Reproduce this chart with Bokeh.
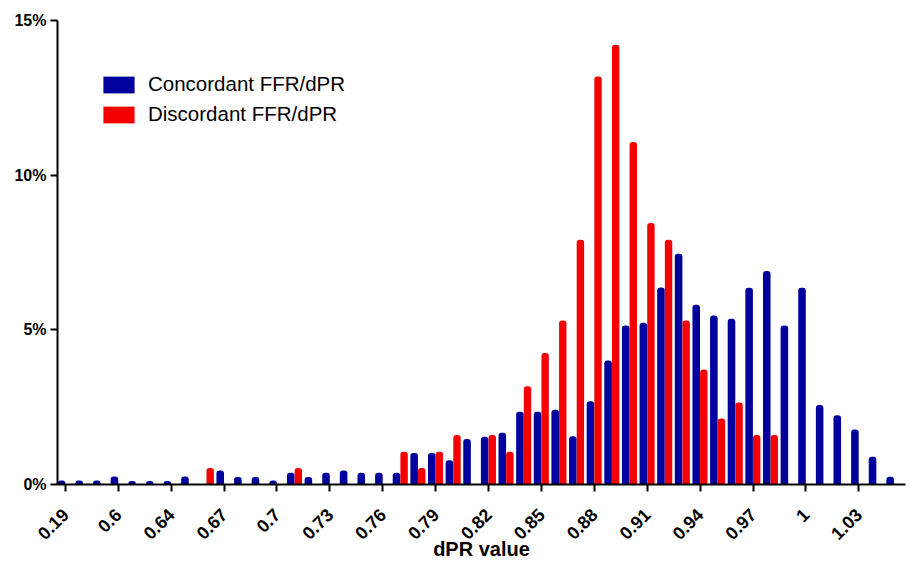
import math
from bokeh.plotting import figure
from bokeh.models import ColumnDataSource, FixedTicker, PrintfTickFormatter, Range1d, Legend, LegendItem
from bokeh.transform import dodge
from bokeh.embed import file_html
from bokeh.resources import INLINE

# dPR categories (every third one is labelled on the axis)
categories = ["0.19", "0.5", "0.55", "0.6", "0.61", "0.62", "0.64", "0.65", "0.66",
              "0.67", "0.68", "0.69", "0.7", "0.71", "0.72", "0.73", "0.74", "0.75",
              "0.76", "0.77", "0.78", "0.79", "0.8", "0.81", "0.82", "0.83", "0.84",
              "0.85", "0.86", "0.87", "0.88", "0.89", "0.9", "0.91", "0.92", "0.93",
              "0.94", "0.95", "0.96", "0.97", "0.98", "0.99", "1", "1.01", "1.02",
              "1.03", "1.04", "1.05"]

# percentage of lesions, concordant FFR/dPR
concordant = [0.13, 0.13, 0.13, 0.26, 0.11, 0.11, 0.11, 0.26, 0.0,
              0.45, 0.24, 0.24, 0.13, 0.38, 0.24, 0.38, 0.45, 0.38,
              0.38, 0.38, 1.02, 1.02, 0.78, 1.47, 1.54, 1.67, 2.35,
              2.35, 2.42, 1.56, 2.69, 4.01, 5.14, 5.23, 6.37, 7.46,
              5.81, 5.46, 5.36, 6.36, 6.90, 5.14, 6.36, 2.57, 2.24,
              1.78, 0.90, 0.25]

# percentage of lesions, discordant FFR/dPR
discordant = [0, 0, 0, 0, 0, 0, 0, 0, 0.53,
              0, 0, 0, 0, 0.53, 0, 0, 0, 0,
              0, 1.06, 0.53, 1.06, 1.60, 0, 1.60, 1.06, 3.18,
              4.25, 5.30, 7.91, 13.19, 14.22, 11.07, 8.45, 7.91, 5.30,
              3.72, 2.13, 2.65, 1.60, 1.60, 0, 0, 0, 0,
              0, 0, 0]

y_ticks = [0, 5, 10, 15]

idx = list(range(len(categories)))
src = ColumnDataSource(dict(x=idx, cat=categories, conc=concordant, disc=discordant))

p = figure(width=909, height=564, output_backend="svg", toolbar_location=None,
           x_range=Range1d(-0.45, 47.65), y_range=Range1d(0, 15),
           min_border_left=57, min_border_right=4, min_border_top=20, min_border_bottom=80)
p.outline_line_color = None
p.xgrid.visible = False
p.ygrid.visible = False

r_conc = p.vbar(x=dodge("x", -0.22), top="conc", width=0.43, source=src,
                fill_color="#00009C", line_color=None, border_radius=(3, 3, 0, 0))
r_disc = p.vbar(x=dodge("x", 0.21), top="disc", width=0.42, source=src,
                fill_color="#F50000", line_color=None, border_radius=(3, 3, 0, 0))

label_ticks = [i for i in idx if i % 3 == 0]
p.xaxis.ticker = FixedTicker(ticks=label_ticks)
p.xaxis.major_label_overrides = {i: categories[i] for i in label_ticks}
p.xaxis.major_label_orientation = math.pi / 4
p.xaxis.axis_label = "dPR value"

p.yaxis.ticker = FixedTicker(ticks=y_ticks)
p.yaxis.formatter = PrintfTickFormatter(format="%d%%")

for ax in (p.xaxis[0], p.yaxis[0]):
    ax.axis_line_width = 2
    ax.axis_line_color = "black"
    ax.major_tick_line_width = 2
    ax.major_tick_line_color = "black"
    ax.major_tick_out = 7
    ax.major_tick_in = 0
    ax.minor_tick_line_color = None
    ax.major_label_text_font = "Liberation Sans"
    ax.major_label_text_font_style = "bold"
    ax.major_label_text_color = "black"

p.yaxis.major_label_text_font_size = "16px"
p.yaxis.major_label_standoff = 4
p.xaxis.major_label_text_font_size = "18px"
p.xaxis.major_label_standoff = 20
p.xaxis.axis_label_text_font = "Liberation Sans"
p.xaxis.axis_label_text_font_style = "bold"
p.xaxis.axis_label_text_font_size = "20px"
p.xaxis.axis_label_text_color = "black"
p.xaxis.axis_label_standoff = -10

legend = Legend(items=[LegendItem(label="Concordant FFR/dPR", renderers=[r_conc]),
                       LegendItem(label="Discordant FFR/dPR", renderers=[r_disc])],
                location=(42, 358))
legend.border_line_color = None
legend.background_fill_alpha = 0
legend.padding = 0
legend.margin = 0
legend.spacing = 6
legend.glyph_width = 39
legend.glyph_height = 21
legend.label_standoff = 10
legend.label_text_font = "Liberation Sans"
legend.label_text_font_size = "20.5px"
legend.label_text_color = "black"
p.add_layout(legend, "center")

open("out.html", "w").write(file_html(p, INLINE))
